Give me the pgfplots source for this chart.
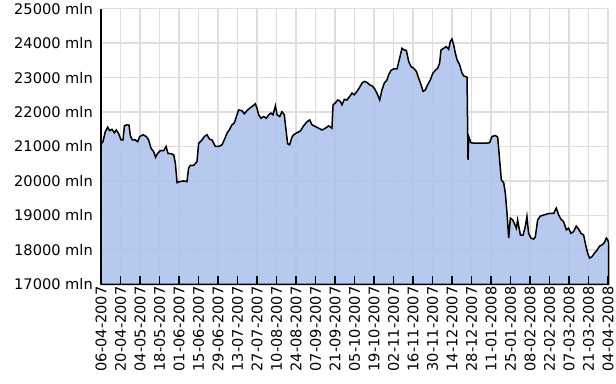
\documentclass[border=0pt]{standalone}
\usepackage{pgfplots}
\pgfplotsset{compat=1.18}
\usepackage{fontspec}
\setmainfont{DejaVu Sans}
\definecolor{areafill}{RGB}{176,195,237}
\definecolor{gridgray}{RGB}{222,222,222}
\pgfplotsset{common/.style={
  at={(0,0)}, anchor=south west,
  scale only axis, width=507pt, height=275.6pt,
  xmin=0, xmax=364, ymin=17000, ymax=25000,
  scaled x ticks=false, scaled y ticks=false,
  xtick={0,14,...,364},
  ytick={17000,18000,...,25000},
  clip=false,
}}
\begin{document}
\fontsize{14.6}{17}\selectfont
\begin{tikzpicture}
\useasboundingbox (-101pt,-98.7pt) rectangle (515pt,284.3pt);
\begin{axis}[
  common,
  axis line style={draw=none},
  xticklabels={}, yticklabels={},
  major tick length=0pt,
  grid=major,
  grid style={draw=gridgray, line width=1.4pt},
]
\addplot[draw=black, line width=1.5pt, fill=areafill, fill opacity=0.9, draw opacity=1] coordinates {
(0,21075) (1.4,21140) (3.1,21430) (4.8,21560) (6.2,21460) (7.9,21500) (9.6,21400) (11.0,21480) (12.7,21370) (14.4,21190) (15.8,21190) (16.8,21600) (18.7,21630) (20.1,21620) (21.1,21310) (22.5,21190) (24.6,21190) (26.3,21140) (27.8,21290) (30.2,21340) (32.5,21290) (34.2,21190) (35.9,20950) (37.8,20850) (39.2,20690) (40.7,20800) (42.6,20880) (45.0,20880) (46.7,21000) (48.1,20800) (50.3,20790) (52.2,20760) (53.4,20510) (54.6,19950) (56.5,19980) (59.3,20000) (61.7,19980) (62.9,20370) (64.1,20450) (66.5,20450) (68.9,20560) (70.1,21090) (72.5,21190) (74.2,21290) (76.1,21340) (78.0,21210) (79.7,21190) (82.1,21000) (84.5,21000) (86.9,21050) (88.5,21190) (90.5,21390) (92.4,21500) (94.0,21630) (95.7,21680) (97.6,21920) (98.8,22060) (101.2,22040) (102.9,21950) (104.8,22040) (106.7,22110) (109.1,22180) (110.8,22240) (112.0,22110) (113.2,21920) (114.9,21820) (116.8,21870) (118.7,21820) (120.4,21920) (122.0,21970) (123.5,21920) (125.2,22180) (126.4,21920) (128.3,21870) (129.9,22010) (131.6,21920) (133.1,21390) (134.0,21080) (135.4,21050) (137.1,21270) (138.3,21340) (140.7,21400) (143.1,21450) (145.5,21600) (147.9,21720) (149.8,21770) (151.5,21630) (153.9,21580) (156.3,21530) (158.7,21480) (161.1,21530) (163.4,21600) (165.8,21530) (166.6,22210) (168.2,22260) (169.9,22350) (171.8,22310) (173.0,22210) (174.7,22370) (176.6,22350) (178.5,22450) (180.2,22550) (181.8,22500) (183.8,22600) (185.7,22720) (187.4,22840) (189.1,22890) (191.0,22860) (192.9,22790) (194.6,22760) (196.2,22690) (198.1,22550) (200.1,22350) (201.7,22640) (203.4,22840) (205.3,22930) (206.5,23080) (208.2,23210) (210.1,23250) (212.5,23250) (214.4,23560) (216.1,23850) (217.8,23800) (219.2,23790) (220.9,23470) (222.6,23320) (224.5,23270) (226.4,23180) (228.1,22980) (229.8,22790) (231.2,22600) (232.8,22640) (234.5,22790) (236.4,22930) (238.3,23130) (240.0,23210) (241.7,23270) (243.1,23420) (244.1,23800) (246.0,23850) (247.9,23900) (249.6,23820) (250.8,24050) (252.0,24120) (253.2,23950) (254.4,23710) (255.6,23520) (257.5,23370) (259.2,23130) (260.4,23050) (262.8,23010) (263.5,20610) (264.0,21290) (265.6,21110) (267.5,21100) (272.3,21100) (277.1,21100) (279.0,21110) (280.7,21290) (283.1,21320) (284.8,21270) (286.2,20610) (287.4,20030) (289.1,19950) (290.3,19640) (291.5,19060) (292.7,18340) (293.9,18920) (295.6,18870) (296.7,18770) (298.2,18630) (299.1,18870) (301.1,18430) (303.0,18430) (304.6,18670) (305.8,18970) (307.0,18480) (308.7,18340) (310.6,18310) (311.8,18370) (313.5,18870) (315.4,18980) (317.8,19010) (320.2,19040) (322.6,19060) (325.0,19060) (326.9,19210) (328.6,19010) (330.2,18890) (332.1,18820) (334.1,18580) (335.7,18630) (337.4,18480) (339.3,18530) (341.2,18690) (342.9,18600) (344.6,18480) (346.5,18430) (347.7,18190) (349.4,17900) (350.8,17760) (352.5,17800) (354.2,17900) (356.1,17990) (358.0,18110) (359.7,18140) (361.4,18210) (362.8,18340) (363.8,18290) (364.5,18190)
} \closedcycle;
\end{axis}
\begin{axis}[
  common,
  axis x line*=bottom, axis y line*=left,
  axis line style={black, line width=1.3pt, -},
  xticklabels={06-04-2007,20-04-2007,04-05-2007,18-05-2007,01-06-2007,15-06-2007,29-06-2007,13-07-2007,27-07-2007,10-08-2007,24-08-2007,07-09-2007,21-09-2007,05-10-2007,19-10-2007,02-11-2007,16-11-2007,30-11-2007,14-12-2007,28-12-2007,11-01-2008,25-01-2008,08-02-2008,22-02-2008,07-03-2008,21-03-2008,04-04-2008},
  xticklabel style={rotate=90, anchor=east, font=\fontsize{14.6}{17}\selectfont, inner sep=2pt},
  yticklabels={17000 mln,18000 mln,19000 mln,20000 mln,21000 mln,22000 mln,23000 mln,24000 mln,25000 mln},
  yticklabel style={font=\fontsize{14.6}{17}\selectfont, inner sep=2pt, xshift=-6pt},
  xtick pos=bottom, ytick pos=left,
  tick align=inside,
  major tick length=8pt,
  x tick style={black, line width=1.3pt},
  y tick style={line width=0pt, opacity=0},
]
\addplot[draw=none, mark=none, forget plot,
  error bars/.cd, y dir=plus, y explicit,
  error bar style={black, line width=1.3pt}, error mark=none]
  coordinates {
  (14,17000) +- (0,232) (28,17000) +- (0,232) (42,17000) +- (0,232) (56,17000) +- (0,232)
  (70,17000) +- (0,232) (84,17000) +- (0,232) (98,17000) +- (0,232) (112,17000) +- (0,232)
  (126,17000) +- (0,232) (140,17000) +- (0,232) (154,17000) +- (0,232) (168,17000) +- (0,232)
  (182,17000) +- (0,232) (196,17000) +- (0,232) (210,17000) +- (0,232) (224,17000) +- (0,232)
  (238,17000) +- (0,232) (252,17000) +- (0,232) (266,17000) +- (0,232) (280,17000) +- (0,232)
  (294,17000) +- (0,232) (308,17000) +- (0,232) (322,17000) +- (0,232) (336,17000) +- (0,232)
  (350,17000) +- (0,232)
};
\end{axis}
\end{tikzpicture}
\end{document}
